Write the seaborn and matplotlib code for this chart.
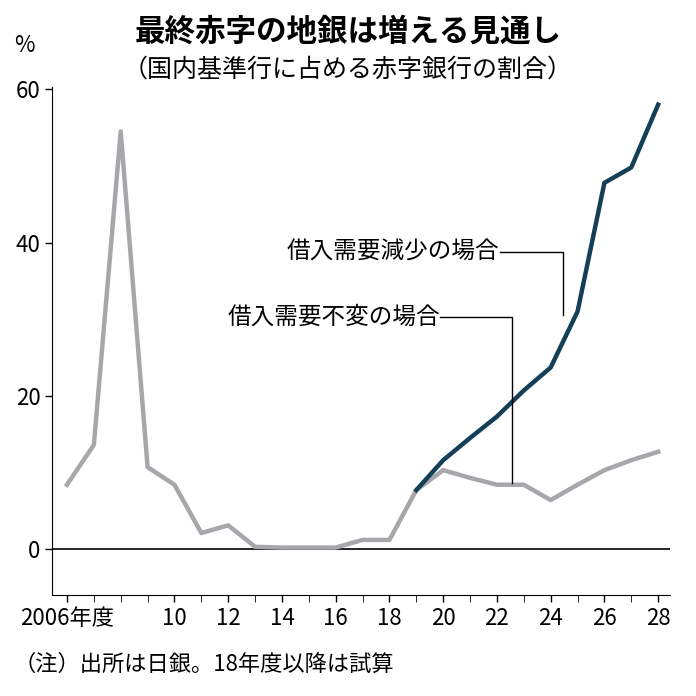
import matplotlib
matplotlib.use('Agg')
import matplotlib.pyplot as plt
import seaborn as sns
import pandas as pd

plt.rcParams['font.family'] = 'Noto Sans CJK JP'

# Data
years = list(range(2006, 2029))
flat_vals = [8.4, 13.6, 54.5, 10.7, 8.4, 2.1, 3.1, 0.3, 0.2, 0.2, 0.2, 1.2, 1.2,
             7.7, 10.3, 9.3, 8.4, 8.4, 6.4, 8.4, 10.3, 11.6, 12.7]
dec_years = list(range(2019, 2029))
dec_vals = [7.7, 11.6, 14.5, 17.3, 20.7, 23.7, 31.0, 47.8, 49.8, 58.0]
xtick_pos = [2006, 2010, 2012, 2014, 2016, 2018, 2020, 2022, 2024, 2026, 2028]
xtick_lab = ['2006年度', '10', '12', '14', '16', '18', '20', '22', '24', '26', '28']

df_flat = pd.DataFrame({'year': years, 'val': flat_vals})
df_dec = pd.DataFrame({'year': dec_years, 'val': dec_vals})

fig = plt.figure(figsize=(6.96, 6.96), dpi=100)
ax = fig.add_axes([0.075, 0.145, 0.888, 0.73])

sns.lineplot(data=df_flat, x='year', y='val', color='#a7a6ab', lw=3.2, ax=ax)
sns.lineplot(data=df_dec, x='year', y='val', color='#143f57', lw=3.2, ax=ax)
ax.axhline(0, color='black', lw=1.2, zorder=0)

ax.set_xlim(2005.45, 2028.45)
ax.set_ylim(-6, 60.3)
ax.set_yticks([0, 20, 40, 60])
ax.set_xticks(xtick_pos)
ax.set_xticks(range(2006, 2029), minor=True)
ax.set_xticklabels(xtick_lab)
ax.tick_params(labelsize=16, length=5, width=1)
ax.tick_params(axis='x', which='minor', length=5)
ax.set_xlabel('')
ax.set_ylabel('')
for s in ['top', 'right']:
    ax.spines[s].set_visible(False)

# Annotations
ax.text(2022.1, 38.8, '借入需要減少の場合', ha='right', va='center', fontsize=17)
ax.plot([2022.1, 2024.45, 2024.45], [38.8, 38.8, 30.5], color='black', lw=1)
ax.text(2019.9, 30.3, '借入需要不変の場合', ha='right', va='center', fontsize=17)
ax.plot([2019.9, 2022.55, 2022.55], [30.3, 30.3, 8.6], color='black', lw=1)

fig.text(0.5, 0.955, '最終赤字の地銀は増える見通し', ha='center', va='center',
         fontsize=22, fontweight='bold')
fig.text(0.5, 0.9, '（国内基準行に占める赤字銀行の割合）', ha='center', va='center', fontsize=18)
fig.text(0.02, 0.935, '%', fontsize=16, va='center')
fig.text(0.02, 0.045, '（注）出所は日銀。18年度以降は試算', fontsize=16, va='center')

fig.savefig('out.png', dpi=100, facecolor='white')
